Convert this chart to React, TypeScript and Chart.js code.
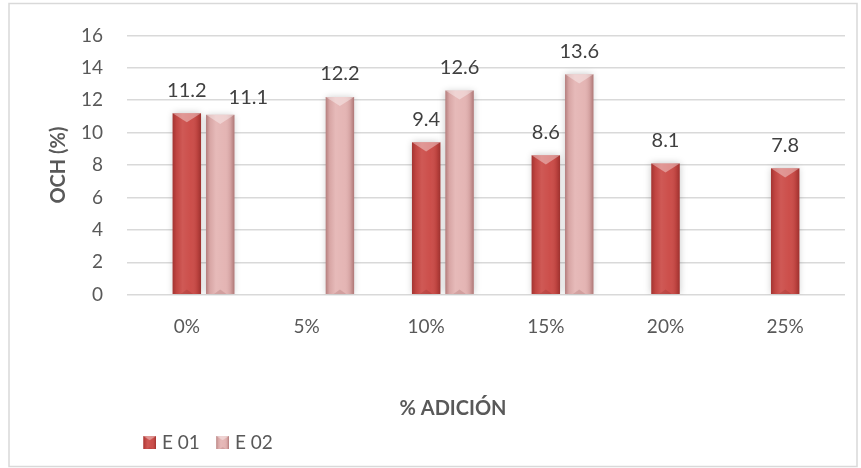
import React, { useEffect, useRef } from "react";
import { Chart, registerables } from "chart.js";

Chart.register(...registerables);

const categories = ["0%", "5%", "10%", "15%", "20%", "25%"];
const seriesE01 = [11.2, null, 9.4, 8.6, 8.1, 7.8];
const seriesE02 = [11.1, 12.2, 12.6, 13.6, null, null];
// empty leading slot: keeps E 01 on the category centre with E 02 to its right
const leadingSlot = [null, null, null, null, null, null];
const yTickValues = [0, 2, 4, 6, 8, 10, 12, 14, 16];
const yTitle = "OCH (%)";
const xTitle = "% ADICIÓN";

const FONT = "Lato, 'Open Sans', sans-serif";
const TEXT = "#595959";
const LABEL = "#404040";
const GRID = "#d9d9d9";
const E01_COLOR = "#cb4b47";
const E02_COLOR = "#e4b4b3";

// bevelled look of a column: dark side strips, a light top facet and a faint bottom facet
function shadeColumn(ctx: CanvasRenderingContext2D, left: number, top: number, right: number, bottom: number) {
  const w = right - left;
  const h = bottom - top;
  if (w <= 0 || h <= 0) return;
  const g = ctx.createLinearGradient(left, 0, right, 0);
  g.addColorStop(0, "rgba(70,0,0,0.30)");
  g.addColorStop(0.14, "rgba(70,0,0,0.08)");
  g.addColorStop(0.35, "rgba(255,255,255,0.08)");
  g.addColorStop(0.65, "rgba(255,255,255,0.02)");
  g.addColorStop(0.86, "rgba(70,0,0,0.10)");
  g.addColorStop(1, "rgba(70,0,0,0.34)");
  ctx.fillStyle = g;
  ctx.fillRect(left, top, w, h);
  const d = Math.min(w * 0.32, h / 2);
  ctx.beginPath();
  ctx.moveTo(left, top);
  ctx.lineTo(right, top);
  ctx.lineTo(left + w / 2, top + d);
  ctx.closePath();
  ctx.fillStyle = "rgba(255,255,255,0.38)";
  ctx.fill();
  ctx.beginPath();
  ctx.moveTo(left + w * 0.28, bottom);
  ctx.lineTo(right - w * 0.28, bottom);
  ctx.lineTo(left + w / 2, bottom - d * 0.5);
  ctx.closePath();
  ctx.fillStyle = "rgba(70,0,0,0.12)";
  ctx.fill();
}

function makeLegendIcon(color: string) {
  const c = document.createElement("canvas");
  c.width = 21;
  c.height = 13;
  const ctx = c.getContext("2d")!;
  ctx.fillStyle = color;
  ctx.fillRect(8, 0, 13, 13);
  shadeColumn(ctx, 8, 0, 21, 13);
  return c;
}

const frame = {
  id: "frame",
  beforeDraw(chart: any) {
    const ctx = chart.ctx;
    ctx.save();
    ctx.fillStyle = "#ffffff";
    ctx.fillRect(0, 0, chart.width, chart.height);
    ctx.strokeStyle = GRID;
    ctx.lineWidth = 1.5;
    ctx.strokeRect(9, 3.5, 848, 463);
    ctx.restore();
  },
};

// rotated value-axis title, set just left of the tick labels
const valueAxisTitle = {
  id: "valueAxisTitle",
  afterDraw(chart: any) {
    const { ctx, chartArea } = chart;
    ctx.save();
    ctx.translate(chartArea.left - 68, (chartArea.top + chartArea.bottom) / 2);
    ctx.rotate(-Math.PI / 2);
    ctx.font = `bold 20px ${FONT}`;
    ctx.fillStyle = TEXT;
    ctx.textAlign = "center";
    ctx.textBaseline = "middle";
    ctx.fillText(yTitle, 0, 0);
    ctx.restore();
  },
};

const bevel = {
  id: "bevel",
  beforeDatasetDraw(chart: any, args: any) {
    if (chart.data.datasets[args.index].slotOnly) return;
    const ctx = chart.ctx;
    ctx.save();
    ctx.shadowColor = "rgba(0,0,0,0.22)";
    ctx.shadowBlur = 7;
    ctx.shadowOffsetX = 0;
    ctx.shadowOffsetY = 0;
  },
  afterDatasetDraw(chart: any, args: any) {
    const ds = chart.data.datasets[args.index];
    if (ds.slotOnly) return;
    const ctx = chart.ctx;
    ctx.restore();
    ctx.save();
    args.meta.data.forEach((el: any, i: number) => {
      if (ds.data[i] == null) return;
      const { x, y, base, width } = el.getProps(["x", "y", "base", "width"], true);
      shadeColumn(ctx, x - width / 2, y, x + width / 2, base);
    });
    ctx.restore();
  },
};

const valueLabels = {
  id: "valueLabels",
  afterDatasetsDraw(chart: any) {
    const ctx = chart.ctx;
    ctx.save();
    ctx.font = `20px ${FONT}`;
    ctx.fillStyle = LABEL;
    ctx.textAlign = "center";
    ctx.textBaseline = "middle";
    const placed: { l: number; r: number; t: number; b: number }[][] = [];
    chart.data.datasets.forEach((ds: any, di: number) => {
      if (ds.slotOnly) return;
      const meta = chart.getDatasetMeta(di);
      meta.data.forEach((el: any, i: number) => {
        const v = ds.data[i];
        if (v == null) return;
        const { x, y } = el.getProps(["x", "y"], true);
        const text = v.toFixed(1);
        const tw = ctx.measureText(text).width;
        const th = 16;
        let cx = x;
        let cy = y - 23;
        const prev = placed[i] || (placed[i] = []);
        for (const p of prev) {
          if (cx - tw / 2 < p.r && cx + tw / 2 > p.l && cy - th / 2 < p.b && cy + th / 2 > p.t) {
            cx = p.r + 22 + tw / 2;
            cy = y - 17;
          }
        }
        ctx.fillText(text, cx, cy);
        prev.push({ l: cx - tw / 2, r: cx + tw / 2, t: cy - th / 2, b: cy + th / 2 });
      });
    });
    ctx.restore();
  },
};

export default function App() {
  const canvasRef = useRef<HTMLCanvasElement | null>(null);

  useEffect(() => {
    if (!canvasRef.current) return;
    const icons: Record<number, HTMLCanvasElement> = {
      1: makeLegendIcon(E01_COLOR),
      2: makeLegendIcon(E02_COLOR),
    };
    const chart = new Chart(canvasRef.current, {
      type: "bar",
      data: {
        labels: categories,
        datasets: [
          { label: "", data: leadingSlot, slotOnly: true, backgroundColor: "rgba(0,0,0,0)" } as any,
          { label: "E 01", data: seriesE01, backgroundColor: E01_COLOR },
          { label: "E 02", data: seriesE02, backgroundColor: E02_COLOR },
        ],
      },
      options: {
        responsive: false,
        animation: false,
        events: [],
        layout: { padding: { left: 61, right: 16, top: 30, bottom: 6 } },
        datasets: { bar: { categoryPercentage: 0.8375, barPercentage: 0.85 } },
        scales: {
          x: {
            grid: { display: false, drawTicks: false },
            border: { display: false },
            ticks: { color: TEXT, font: { family: FONT, size: 19 }, padding: 21 },
          },
          y: {
            min: yTickValues[0],
            max: yTickValues[yTickValues.length - 1],
            afterBuildTicks: (axis: any) => {
              axis.ticks = yTickValues.map((v) => ({ value: v }));
            },
            afterFit: (axis: any) => {
              axis.width = 66;
            },
            grid: { color: GRID, lineWidth: 1.5, drawTicks: false },
            border: { display: false },
            ticks: { color: TEXT, font: { family: FONT, size: 19 }, padding: 24 },
          },
        },
        plugins: {
          tooltip: { enabled: false },
          title: {
            display: true,
            text: xTitle,
            position: "bottom",
            weight: 500,
            color: TEXT,
            font: { family: FONT, size: 20, weight: "bold" },
            padding: { top: 37, bottom: 0.5 },
          } as any,
          legend: {
            position: "bottom",
            align: "start",
            fullSize: false,
            labels: {
              usePointStyle: true,
              boxWidth: 13.5,
              boxHeight: 13,
              padding: 12,
              color: TEXT,
              font: { family: FONT, size: 19 },
              generateLabels: (c: any) =>
                c.data.datasets
                  .map((ds: any, i: number) => ({ ds, i }))
                  .filter(({ ds }: any) => !ds.slotOnly)
                  .map(({ ds, i }: any) => ({
                    text: ds.label,
                    fillStyle: ds.backgroundColor,
                    strokeStyle: ds.backgroundColor,
                    lineWidth: 0,
                    pointStyle: icons[i],
                    hidden: false,
                    datasetIndex: i,
                    fontColor: TEXT,
                  })),
            },
          },
        },
      },
      plugins: [frame, bevel, valueLabels, valueAxisTitle],
    });
    return () => chart.destroy();
  }, []);

  return (
    <div style={{ position: "absolute", left: 0, top: 0, width: 861, height: 468 }}>
      <canvas ref={canvasRef} width={861} height={468} style={{ display: "block" }} />
    </div>
  );
}
